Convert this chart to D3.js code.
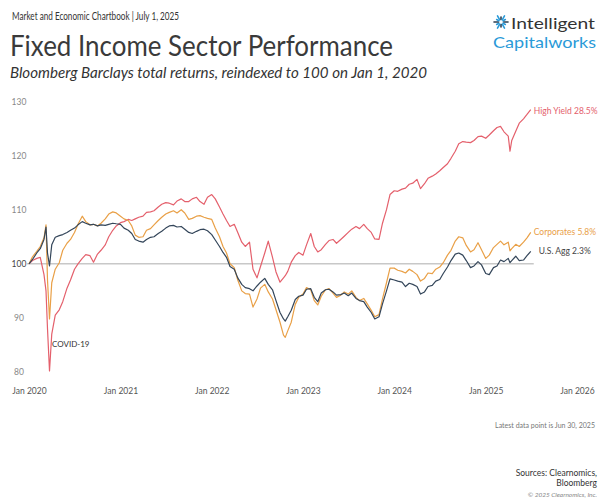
<!DOCTYPE html>
<html>
<head>
<meta charset="utf-8">
<script src="https://cdn.jsdelivr.net/npm/d3@7"></script>
<style>
  body { margin: 0; background: #fff; }
  svg { display: block; font-family: Lato, "Open Sans", sans-serif; }
</style>
</head>
<body>
<div id="chart"></div>
<script>
// dates: 1st and 15th of each month, plus a few extra days around big moves
const dates = [
  "2020-01-01","2020-01-15","2020-02-01","2020-02-15","2020-03-01","2020-03-09","2020-03-15","2020-03-23",
  "2020-04-01","2020-04-15","2020-05-01","2020-05-15","2020-06-01","2020-06-15","2020-07-01","2020-07-15",
  "2020-08-01","2020-08-15","2020-09-01","2020-09-15","2020-10-01","2020-10-15","2020-11-01","2020-11-15",
  "2020-12-01","2020-12-15",
  "2021-01-01","2021-01-15","2021-02-01","2021-02-15","2021-03-01","2021-03-15","2021-04-01","2021-04-15",
  "2021-05-01","2021-05-15","2021-06-01","2021-06-15","2021-07-01","2021-07-15","2021-08-01","2021-08-15",
  "2021-09-01","2021-09-15","2021-10-01","2021-10-15","2021-11-01","2021-11-15","2021-12-01","2021-12-15",
  "2022-01-01","2022-01-15","2022-02-01","2022-02-15","2022-03-01","2022-03-15","2022-04-01","2022-04-15",
  "2022-05-01","2022-05-15","2022-06-01","2022-06-15","2022-07-01","2022-07-15","2022-08-01","2022-08-15",
  "2022-09-01","2022-09-15","2022-10-01","2022-10-15","2022-10-22","2022-11-01","2022-11-15","2022-12-01",
  "2022-12-15",
  "2023-01-01","2023-01-15","2023-02-01","2023-02-15","2023-03-01","2023-03-15","2023-04-01","2023-04-15",
  "2023-05-01","2023-05-15","2023-06-01","2023-06-15","2023-07-01","2023-07-15","2023-08-01","2023-08-15",
  "2023-09-01","2023-09-15","2023-10-01","2023-10-15","2023-11-01","2023-11-15","2023-12-01","2023-12-15",
  "2024-01-01","2024-01-15","2024-02-01","2024-02-15","2024-03-01","2024-03-15","2024-04-01","2024-04-15",
  "2024-05-01","2024-05-15","2024-06-01","2024-06-15","2024-07-01","2024-07-15","2024-08-01","2024-08-15",
  "2024-09-01","2024-09-15","2024-10-01","2024-10-15","2024-11-01","2024-11-15","2024-12-01","2024-12-15",
  "2025-01-01","2025-01-15","2025-02-01","2025-02-15","2025-03-01","2025-03-15","2025-04-01","2025-04-08",
  "2025-04-15","2025-05-01","2025-05-15","2025-06-01","2025-06-15","2025-06-30"
]

const highYield = [
  100,100.6,101,101.2,98,95,88,80.2,
  87,90.5,91.5,93,95.5,97,99,100,
  101,101.7,101.5,100.3,101.8,102.5,103.5,105,
  106.2,107,
  107.6,107.8,108.2,108,108.3,108.6,108.8,109.5,
  109.6,109.8,110.5,111,111.3,111.2,110.9,111.6,
  112,111.5,111.5,112,112.3,111.5,111,112.3,
  112.8,112,110.5,109.2,108,106.9,107.3,105.8,
  104,103.2,104,99,97.4,99.5,102,104.2,
  101.2,98.5,96.6,97.4,97.8,98.6,100.3,101.5,
  102.1,
  101.6,103.5,105.6,103.2,102.2,102.6,103.6,104.3,
  104.5,103.8,104.5,105.1,105.8,106.4,106.9,106.5,
  107.3,106.5,105.8,104.6,104.5,107.5,110,112.8,
  113.5,113.4,113.8,114,114.7,114.9,115.6,113.9,
  114.8,115.8,116.2,116.6,117.2,117.8,118.5,119.5,
  120.8,122.2,122.6,122.5,122.4,122.8,123.5,123.6,
  123.2,123.8,124.6,125.2,125.4,124.4,123.6,120.8,
  122.8,124.5,126,126.8,127.6,128.5
]

const corporates = [
  100,101.3,102.3,103.2,104.8,107.2,97,89.8,
  96.5,99,100.2,102.5,103.8,104.5,105.8,107.3,
  108.8,107.8,107.2,107.3,107,107.5,108.3,109.2,
  109.6,109.4,
  108.8,108.3,108,107,105.3,104.9,105,106.2,
  106.5,107.2,108,108.6,109.2,109.5,109.8,109.4,
  110,109.4,108.2,108.4,108.8,108.9,108.6,108.4,
  108.2,106.6,105,103.2,102,100,99.3,97,
  95,94.5,94.4,92,93.5,95.5,96.2,94.8,
  93.5,91.5,89.2,86.8,86.4,87.6,89.2,92.5,
  93.8,
  94.4,95.6,95.2,93.2,92.4,94,95.2,95.4,
  94.6,93.8,94.2,94.8,94.4,95,93.8,93.2,
  93.6,92.6,91.4,90.2,90.6,93.5,96.5,99.2,
  99.2,98.8,98.6,98.3,99,98.6,98,96.8,
  97.3,98.3,98.2,99,99.4,100.2,101.6,102.5,
  104.2,105,104.8,103.4,102.2,102.6,103.9,102.6,
  101,101.6,103,103.6,104.2,103.5,104,102.4,
  102.8,103.6,103.2,104,104.8,105.8
]

const usAgg = [
  100,100.8,102,102.8,104.5,106.8,102,99.6,
  103.5,104.9,105.2,105.4,105.8,106.2,106.6,107.2,
  107.8,107.5,107.2,107.3,107,107.2,107.1,107.3,
  107.5,107.4,
  107.3,106.6,106.2,105.6,104.5,104.2,104,104.5,
  104.9,105,105.6,106,106.6,107,107.1,106.8,
  106.9,106.4,105.8,105.6,106,106.3,106.4,106.1,
  105.4,104.4,103.2,102.1,101.2,99.5,99,97.4,
  96.2,95.6,95.4,95,95.9,96.6,97.3,96.2,
  95.2,93.2,91,89.8,89.4,90.2,91.4,93.4,
  94,
  94.2,95.3,95.4,93.8,93,94.6,95.2,95.3,
  94.8,94.2,94.3,94.6,94.1,94.6,93.6,93.2,
  93,92,91,89.8,90.2,92.6,95,97.2,
  97,96.8,96.6,95.8,96.4,96.2,95.8,94.4,
  94.8,95.8,96,96.8,97.1,98.2,99.4,100.6,
  101.8,102,101.6,100.6,99.3,99.6,100.4,99.8,
  98.2,98,99.3,99.6,100.7,100.4,101,100.2,
  100.6,101.4,100.6,100.7,101.5,102.3
]

const seriesNames = ["High Yield", "Corporates", "U.S. Agg"]
const seriesLabels = ["High Yield 28.5%", "Corporates 5.8%", "U.S. Agg 2.3%"]
const yTicks = [80, 90, 100, 110, 120, 130]

const colors = {"High Yield": "#e4606c", "Corporates": "#e9a047", "U.S. Agg": "#34465a"}

const width = 603, height = 503

const svg = d3.select("#chart")
  .append("svg")
    .attr("width", width)
    .attr("height", height)

const parse = d3.utcParse("%Y-%m-%d")
const series = [highYield, corporates, usAgg].map((vals, i) => ({
  name: seriesNames[i],
  label: seriesLabels[i],
  values: dates.map((d, j) => ({date: parse(d), value: vals[j]}))
}))

// header
svg.append("text")
  .attr("x", 12).attr("y", 20)
  .style("font-size", "10.5px").style("fill", "#333")
  .attr("textLength", 167).attr("lengthAdjust", "spacingAndGlyphs")
  .text("Market and Economic Chartbook | July 1, 2025")

svg.append("text")
  .attr("x", 10).attr("y", 56)
  .style("font-size", "28px").style("fill", "#3a3a3a")
  .attr("textLength", 383).attr("lengthAdjust", "spacingAndGlyphs")
  .text("Fixed Income Sector Performance")

svg.append("text")
  .attr("x", 10).attr("y", 78)
  .style("font-size", "15px").style("font-style", "italic").style("fill", "#333")
  .attr("textLength", 417).attr("lengthAdjust", "spacingAndGlyphs")
  .text("Bloomberg Barclays total returns, reindexed to 100 on Jan 1, 2020")

// logo
const logo = svg.append("g").attr("transform", "translate(501,22)")
d3.range(12).forEach(i => {
  const a = i / 12 * Math.PI * 2
  logo.append("line")
    .attr("x1", Math.cos(a) * 2.5).attr("y1", Math.sin(a) * 2.5)
    .attr("x2", Math.cos(a) * (i % 2 ? 5 : 7)).attr("y2", Math.sin(a) * (i % 2 ? 5 : 7))
    .attr("stroke", i % 3 ? "#2a9ad8" : "#2c3e50")
    .attr("stroke-width", 1.6)
    .attr("stroke-linecap", "round")
})
svg.append("text")
  .attr("x", 511).attr("y", 29)
  .style("font-size", "16px").style("fill", "#333")
  .attr("textLength", 84).attr("lengthAdjust", "spacingAndGlyphs")
  .text("Intelligent")
svg.append("text")
  .attr("x", 493).attr("y", 48)
  .style("font-size", "16px").style("fill", "#2a9ad8")
  .attr("textLength", 103).attr("lengthAdjust", "spacingAndGlyphs")
  .text("Capitalworks")

// scales
const x = d3.scaleUtc()
  .domain([parse("2020-01-01"), parse("2026-01-01")])
  .range([29, 577])

const y = d3.scaleLinear()
  .domain([80, 130])
  .range([372, 101.5])

// Y axis labels
const yAxis = svg.append("g")
  .attr("transform", "translate(19,0)")
  .call(d3.axisLeft(y).tickValues(yTicks).tickSize(0).tickPadding(0))
yAxis.select(".domain").remove()
yAxis.selectAll("text")
  .attr("text-anchor", "middle")
  .style("font-family", "Lato, sans-serif")
  .style("font-size", "8.5px")
  .style("fill", d => d === 100 ? "#444" : "#888")

// X axis labels
const xAxis = svg.append("g")
  .attr("transform", "translate(0,388)")
  .call(d3.axisBottom(x).ticks(d3.utcYear.every(1)).tickFormat(d3.utcFormat("Jan %Y")).tickSize(0).tickPadding(0))
xAxis.select(".domain").remove()
xAxis.selectAll("text")
  .style("font-family", "Lato, sans-serif")
  .style("font-size", "8.5px")
  .style("fill", "#555")

// reference line at 100
svg.append("line")
  .attr("x1", x(parse("2020-01-01")) - 2)
  .attr("x2", x(parse("2025-06-30")) + 3)
  .attr("y1", y(100)).attr("y2", y(100))
  .attr("stroke", "#c8c8c8")
  .attr("stroke-width", 1.6)

// lines
const line = d3.line()
  .x(d => x(d.date))
  .y(d => y(d.value))

svg.append("g")
  .selectAll("path")
  .data(series)
  .join("path")
    .attr("d", d => line(d.values))
    .attr("fill", "none")
    .attr("stroke", d => colors[d.name])
    .attr("stroke-width", 1.2)
    .attr("stroke-linejoin", "round")

// end labels
const labelDy = {"High Yield": 1, "Corporates": 0, "U.S. Agg": 0}
svg.append("g")
  .selectAll("text")
  .data(series)
  .join("text")
    .attr("x", d => x(d.values[d.values.length - 1].date) + (d.name === "U.S. Agg" ? 8 : 3))
    .attr("y", d => y(d.values[d.values.length - 1].value) + labelDy[d.name])
    .attr("dy", "0.35em")
    .style("font-size", "8.5px")
    .style("fill", d => d.name === "U.S. Agg" ? "#444" : colors[d.name])
    .text(d => d.label)

// covid annotation
svg.append("text")
  .attr("x", 52).attr("y", y(85.2))
  .attr("dy", "0.35em")
  .style("font-size", "8px")
  .style("fill", "#333")
  .text("COVID-19")

// footer
svg.append("text")
  .attr("x", 595).attr("y", 428)
  .attr("text-anchor", "end")
  .style("font-size", "7px").style("fill", "#777")
  .text("Latest data point is Jun 30, 2025")

svg.append("text")
  .attr("x", 597).attr("y", 476)
  .attr("text-anchor", "end")
  .style("font-size", "8.5px").style("fill", "#333")
  .text("Sources: Clearnomics,")
svg.append("text")
  .attr("x", 597).attr("y", 486)
  .attr("text-anchor", "end")
  .style("font-size", "8.5px").style("fill", "#333")
  .text("Bloomberg")
svg.append("text")
  .attr("x", 597).attr("y", 497)
  .attr("text-anchor", "end")
  .style("font-size", "6.5px").style("font-style", "italic").style("fill", "#888")
  .text("© 2025 Clearnomics, Inc.")
</script>
</body>
</html>
